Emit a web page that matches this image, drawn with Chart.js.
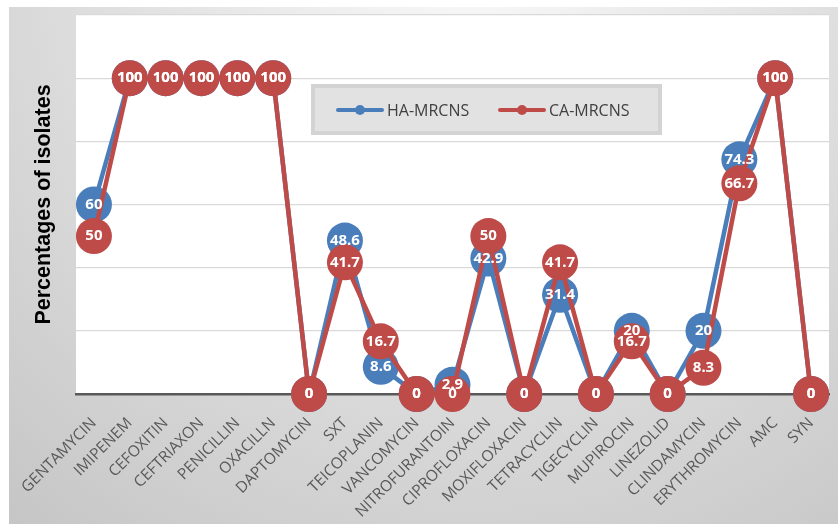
<!DOCTYPE html>
<html>
<head>
<meta charset="utf-8">
<script src="https://cdn.jsdelivr.net/npm/chart.js@4/dist/chart.umd.min.js"></script>
<style>
html,body{margin:0;padding:0;background:#fff;}
#wrap{width:840px;height:526px;position:relative;}
canvas{display:block;}
</style>
</head>
<body>
<div id="wrap"><canvas id="c" width="840" height="526"></canvas></div>
<script>
const categories = ["GENTAMYCIN","IMIPENEM","CEFOXITIN","CEFTRIAXON","PENICILLIN","OXACILLN","DAPTOMYCIN","SXT","TEICOPLANIN","VANCOMYCIN","NITROFURANTOIN","CIPROFLOXACIN","MOXIFLOXACIN","TETRACYCLIN","TIGECYCLIN","MUPIROCIN","LINEZOLID","CLINDAMYCIN","ERYTHROMYCIN","AMC","SYN"];
const haMRCNS = [60,100,100,100,100,100,0,48.6,8.6,0,2.9,42.9,0,31.4,0,20,0,20,74.3,100,0];
const caMRCNS = [50,100,100,100,100,100,0,41.7,16.7,0,0,50,0,41.7,0,16.7,0,8.3,66.7,100,0];
const seriesNames = ["HA-MRCNS","CA-MRCNS"];
const seriesColors = ["#4A7EBB","#BE4B48"];
const yTitle = "Percentages of isolates";

const bgPlugin = {
  id: 'bg',
  beforeDraw(chart) {
    const ctx = chart.ctx;
    const W = chart.width, H = chart.height;
    ctx.save();
    ctx.fillStyle = '#ffffff';
    ctx.fillRect(0,0,W,H);
    const g = ctx.createRadialGradient(470, -40, 0, 470, -40, 720);
    g.addColorStop(0, '#f9f9f9');
    g.addColorStop(1, '#c6c6c6');
    ctx.fillStyle = g;
    ctx.fillRect(9, 7, W - 11, H - 9);
    const a = chart.chartArea;
    ctx.fillStyle = '#ffffff';
    ctx.fillRect(a.left, a.top, a.right - a.left, a.bottom - a.top);
    ctx.restore();
  }
};

const labelPlugin = {
  id: 'vals',
  afterDatasetsDraw(chart) {
    const ctx = chart.ctx;
    ctx.save();
    ctx.font = 'bold 15px "Noto Sans", sans-serif';
    ctx.fillStyle = '#ffffff';
    ctx.textAlign = 'center';
    ctx.textBaseline = 'middle';
    chart.data.datasets.forEach((ds, di) => {
      const meta = chart.getDatasetMeta(di);
      meta.data.forEach((pt, i) => {
        ctx.fillText(String(ds.data[i]), pt.x, pt.y);
      });
    });
    ctx.restore();
  }
};

const legendPlugin = {
  id: 'customLegend',
  afterDraw(chart) {
    const ctx = chart.ctx;
    ctx.save();
    const x0 = 311, y0 = 84, w = 351, h = 51;
    ctx.fillStyle = '#d3d3d3';
    ctx.fillRect(x0, y0, w, h);
    ctx.fillStyle = '#e2e2e2';
    ctx.fillRect(x0 + 4, y0 + 4, w - 8, h - 8);
    const cy = y0 + 26;
    const starts = [338, 500];
    ctx.font = '16px "Open Sans", sans-serif';
    ctx.textBaseline = 'middle';
    ctx.textAlign = 'left';
    seriesNames.forEach((n, i) => {
      const sx = starts[i];
      ctx.strokeStyle = seriesColors[i];
      ctx.lineWidth = 4;
      ctx.lineCap = 'round';
      ctx.beginPath(); ctx.moveTo(sx, cy); ctx.lineTo(sx + 44, cy); ctx.stroke();
      ctx.fillStyle = seriesColors[i];
      ctx.beginPath(); ctx.arc(sx + 22, cy, 5, 0, Math.PI * 2); ctx.fill();
      ctx.fillStyle = '#404040';
      ctx.fillText(n, sx + 49, cy + 1);
    });
    ctx.restore();
  }
};

new Chart(document.getElementById('c'), {
  type: 'line',
  data: {
    labels: categories,
    datasets: [
      { label: seriesNames[0], data: haMRCNS, borderColor: seriesColors[0], backgroundColor: seriesColors[0],
        borderWidth: 4.5, pointRadius: 18, pointBorderWidth: 0, pointHoverRadius: 18, tension: 0, clip: false, order: 2 },
      { label: seriesNames[1], data: caMRCNS, borderColor: seriesColors[1], backgroundColor: seriesColors[1],
        borderWidth: 4.5, pointRadius: 18, pointBorderWidth: 0, pointHoverRadius: 18, tension: 0, clip: false, order: 1 }
    ]
  },
  options: {
    responsive: false,
    animation: false,
    events: [],
    layout: { autoPadding: false, padding: { left: 9, top: 15, right: 11, bottom: 0 } },
    plugins: { legend: { display: false }, tooltip: { enabled: false } },
    scales: {
      x: {
        offset: true,
        grid: { display: false },
        border: { display: true, color: '#595959', width: 2.5 },
        ticks: { color: '#595959', font: { family: '"Open Sans", sans-serif', size: 15.5 }, minRotation: 45, maxRotation: 45, autoSkip: false, padding: 12 },
        afterFit(s) { s.height = 132; s.paddingLeft = 0; s.paddingRight = 0; }
      },
      y: {
        min: 0, max: 120,
        ticks: { display: false, stepSize: 20 },
        grid: { color: (c) => c.tick && c.tick.value === 0 ? 'rgba(0,0,0,0)' : '#d9d9d9', lineWidth: 1.3, drawTicks: false },
        border: { display: false },
        title: { display: true, text: yTitle, color: '#000000', font: { family: '"Liberation Sans", Arial, sans-serif', size: 21.5, weight: 'bold' }, padding: { top: 22, bottom: 0 } },
        afterFit(s) { s.width = 67; s.paddingTop = 0; s.paddingBottom = 0; }
      }
    }
  },
  plugins: [bgPlugin, labelPlugin, legendPlugin]
});
</script>
</body>
</html>
